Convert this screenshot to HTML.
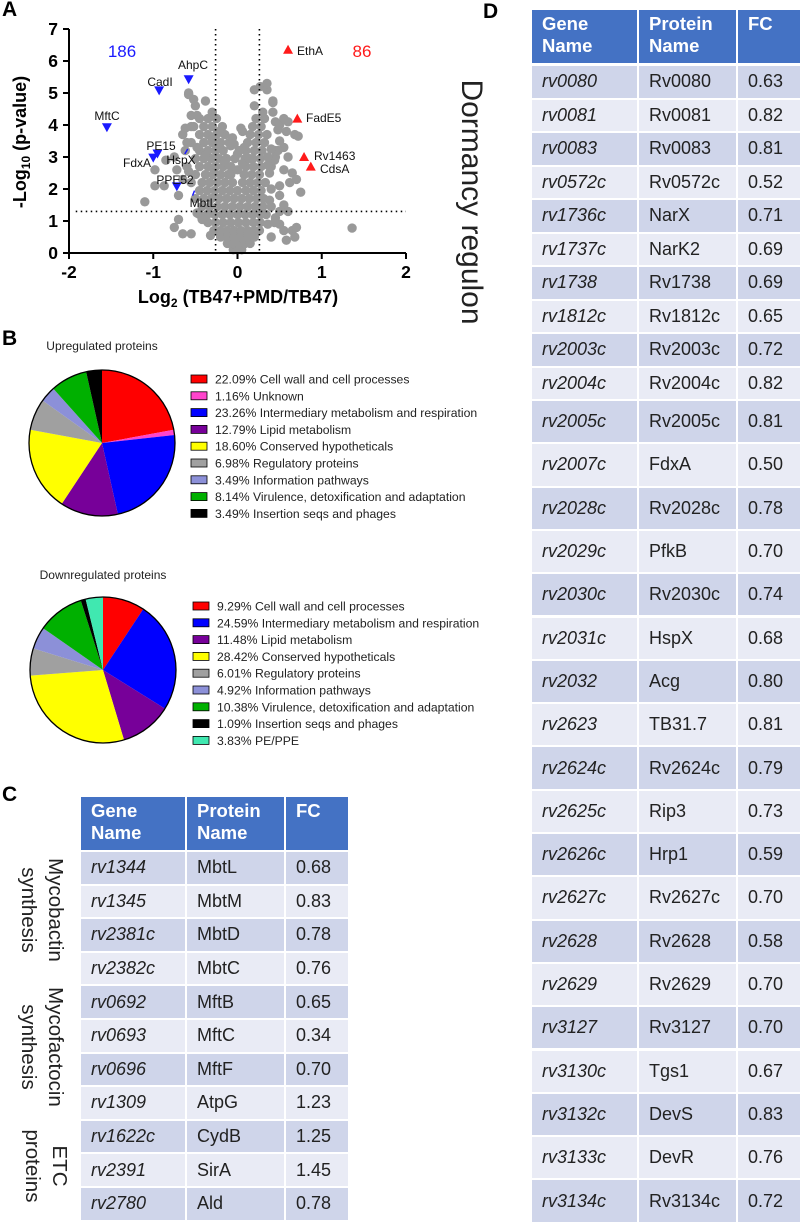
<!DOCTYPE html>
<html><head><meta charset="utf-8">
<style>
body{margin:0;width:800px;height:1228px;background:#fff;position:relative;overflow:hidden;font-family:"Liberation Sans",sans-serif}
.abs{position:absolute}
.cell{position:absolute;box-sizing:border-box;padding-left:10px;font-size:18px;color:#222;display:flex;align-items:center}
.hd{background:#4472c4;color:#fff;font-weight:bold;align-items:flex-start;padding-top:3px;line-height:22px;font-size:18.5px}
.rot{position:absolute;transform:rotate(90deg);transform-origin:center;white-space:nowrap;text-align:center;color:#222}
.plabel{position:absolute;font-weight:bold;font-size:21px;color:#000}
</style></head><body>
<div class="plabel" style="left:2px;top:-2px">A</div>
<div class="plabel" style="left:2px;top:327px">B</div>
<div class="plabel" style="left:2px;top:783px">C</div>
<div class="plabel" style="left:483px;top:0px">D</div>

<svg id="volcano" class="abs" style="left:0;top:0;overflow:visible" width="420" height="310"></svg>
<svg id="pies" class="abs" style="left:0;top:310;overflow:visible" width="525" height="450"></svg>

<div class="rot" style="left:-20px;top:883px;width:124px;font-size:20.5px;line-height:27px">Mycobactin<br>synthesis</div>
<div class="rot" style="left:-24px;top:1020px;width:132px;font-size:20.5px;line-height:27px">Mycofactocin<br>synthesis</div>
<div class="rot" style="left:-4px;top:1139px;width:100px;font-size:20.5px;line-height:27px">ETC<br>proteins</div>
<div class="rot" style="left:340px;top:184px;width:262px;font-size:30px;line-height:36px">Dormancy regulon</div>

<div id="tables"></div>

<script>
// ---------- Volcano data ----------
const grayX=[-0.05,0,0.05,-0.12,-0.05,0.02,0.09,0.15,-0.2,-0.12,-0.04,0.04,0.12,0.2,-0.28,-0.2,-0.12,-0.04,0.04,0.12,0.2,0.26,
-0.35,-0.26,-0.17,-0.08,0.01,0.1,0.19,0.27,-0.45,-0.36,-0.27,-0.18,-0.09,0,0.09,0.18,0.27,0.34,-0.42,-0.33,-0.24,-0.15,-0.06,0.03,0.12,0.21,0.3,
-0.5,-0.4,-0.31,-0.22,-0.13,-0.04,0.05,0.14,0.23,0.31,-0.45,-0.36,-0.27,-0.18,-0.09,0,0.1,0.19,0.28,
-0.55,-0.42,-0.33,-0.24,-0.15,-0.06,0.06,0.15,0.24,0.33,-0.5,-0.38,-0.29,-0.2,-0.11,0.08,0.17,0.26,
-0.6,-0.45,-0.35,-0.26,-0.17,-0.08,0.1,0.19,0.28,0.4,-0.5,-0.4,-0.31,-0.22,-0.13,0.09,0.18,0.27,
-0.62,-0.45,-0.35,-0.26,-0.17,0.1,0.2,0.29,0.45,-0.55,-0.4,-0.3,-0.2,-0.1,0.12,0.22,0.32,
-0.65,-0.45,-0.35,-0.25,-0.15,0.15,0.25,0.35,-0.55,-0.4,-0.3,-0.18,0.18,0.28,-0.45,-0.35,-0.25,0.22,0.32,
-0.3,0.3,0.42,-0.5,0.2,-0.38,0.42,0.2,0.35,0.27,0.35,-0.58,
-1.1,-0.98,-0.87,-0.98,-0.85,-0.75,-0.72,-0.65,-0.7,-0.75,-0.65,-0.7,-0.55,-0.62,-0.55,-0.48,-0.58,-0.52,
0.45,0.5,0.55,0.6,0.58,0.68,0.72,0.5,0.55,0.45,0.6,0.55,0.65,0.62,0.7,0.75,0.5,0.55,0.6,0.45,0.5,0.55,0.58,0.65,0.7,0.68,0.4,1.36,0.4,0.42,0.48,
-0.08,0.0,0.08,-0.15,-0.03,0.06,0.14,-0.22,-0.08,0.0,0.08,-0.3,-0.22,-0.06,0.02,0.06,-0.38,-0.28,-0.04,0.04,-0.42,-0.32,0.36,0.38,-0.48,0.4,0.44,
-0.58,-0.48,-0.52,-0.6,0.36,0.48,0.5,0.38,0.44,0.5,0.36,0.4];
const grayY=[0.1,0.1,0.1,0.3,0.3,0.3,0.3,0.3,0.5,0.5,0.5,0.5,0.5,0.5,0.7,0.7,0.7,0.7,0.7,0.7,0.7,0.7,
0.95,0.95,0.95,0.95,0.95,0.95,0.95,0.95,1.2,1.2,1.2,1.2,1.2,1.2,1.2,1.2,1.2,1.2,1.45,1.45,1.45,1.45,1.45,1.45,1.45,1.45,1.45,
1.7,1.7,1.7,1.7,1.7,1.7,1.7,1.7,1.7,1.7,1.95,1.95,1.95,1.95,1.95,1.95,1.95,1.95,1.95,
2.2,2.2,2.2,2.2,2.2,2.2,2.2,2.2,2.2,2.2,2.45,2.45,2.45,2.45,2.45,2.45,2.45,2.45,
2.7,2.7,2.7,2.7,2.7,2.7,2.7,2.7,2.7,2.7,2.95,2.95,2.95,2.95,2.95,2.95,2.95,2.95,
3.2,3.2,3.2,3.2,3.2,3.2,3.2,3.2,3.2,3.45,3.45,3.45,3.45,3.45,3.45,3.45,3.45,
3.7,3.7,3.7,3.7,3.7,3.7,3.7,3.7,3.95,3.95,3.95,3.95,3.95,3.95,4.2,4.2,4.2,4.2,4.2,
4.4,4.4,4.4,4.6,4.6,4.75,4.75,5.1,5.1,5.2,5.3,4.95,
1.6,2.1,2.1,2.6,2.9,3.0,2.6,2.3,1.8,0.8,0.6,1.05,0.6,3.9,4.3,4.3,5.0,4.8,
4.1,4.0,4.2,4.1,3.8,3.7,3.65,3.5,3.3,3.0,3.0,2.6,2.5,2.2,2.3,1.9,1.8,1.5,1.3,1.1,0.9,0.7,0.4,0.7,0.8,0.5,0.5,0.78,2.0,4.7,3.85,
2.45,2.6,2.45,2.85,2.95,2.8,2.95,3.3,3.35,3.1,3.3,3.55,3.8,3.6,3.2,3.8,3.05,2.5,3.4,3.9,1.05,0.55,0.9,2.5,1.25,1.45,2.9,
2.55,3.3,3.95,3.45,3.0,3.2,2.1,1.65,0.95,1.3,2.75,3.25];
const downNames=["MftC","CadI","AhpC","PE15","FdxA","PPE52"];
const downX=[-1.55,-0.93,-0.58,-0.95,-1.0,-0.72];
const downY=[3.9,5.05,5.4,3.08,2.95,2.05];
const upNames=["EthA","FadE5","Rv1463","CdsA"];
const upX=[0.6,0.71,0.79,0.87];
const upY=[6.35,4.2,3.0,2.7];
const xTicks=[-2,-1,0,1,2];
const yTicks=[0,1,2,3,4,5,6,7];

const NS="http://www.w3.org/2000/svg";
function mk(p,tag,attrs,txt){const e=document.createElementNS(NS,tag);for(const k in attrs)e.setAttribute(k,attrs[k]);if(txt!==undefined)e.textContent=txt;p.appendChild(e);return e;}
const sx=v=>237.5+v*84.25, sy=v=>253-v*32;
const V=document.getElementById('volcano');
grayX.forEach((x,i)=>{const c=mk(V,'circle',{cx:sx(x),cy:sy(grayY[i]),r:4.7,fill:'#999999'});

});
mk(V,'path',{d:`M${sx(-0.59)} ${sy(3.25)} l-3 5`,stroke:'#1a1aff','stroke-width':1.5,fill:'none'});
mk(V,'path',{d:`M${sx(-0.51)} ${sy(1.95)} l-2 5`,stroke:'#1a1aff','stroke-width':1.5,fill:'none'});
[ -0.26,0.26].forEach(v=>{const l=mk(V,'line',{x1:sx(v),x2:sx(v),y1:sy(7),y2:sy(0),stroke:'#000','stroke-width':1.6,'stroke-dasharray':'1.5 3.5'});

});
const hl=mk(V,'line',{x1:sx(-1.92),x2:sx(2),y1:sy(1.3),y2:sy(1.3),stroke:'#000','stroke-width':1.6,'stroke-dasharray':'1.5 3.5'});


downX.forEach((x,i)=>{const X=sx(x),Y=sy(downY[i]);const t=mk(V,'path',{d:`M${X-5} ${Y-5}L${X+5} ${Y-5}L${X} ${Y+4}Z`,fill:'#1a1aff'});

});
upX.forEach((x,i)=>{const X=sx(x),Y=sy(upY[i]);const t=mk(V,'path',{d:`M${X-5} ${Y+4}L${X+5} ${Y+4}L${X} ${Y-5}Z`,fill:'#ff1a1a'});

});
const lab=[["MftC",107,120,'middle'],["CadI",160,86,'middle'],["AhpC",193,69,'middle'],["PE15",161,150,'middle'],["FdxA",151,167,'end'],["HspX",181,164,'middle'],["PPE52",175,184,'middle'],["MbtL",203,207,'middle'],
["EthA",297,55,'start'],["FadE5",306,122,'start'],["Rv1463",314,160,'start'],["CdsA",320,173,'start']];
lab.forEach(l=>{const t=mk(V,'text',{x:l[1],y:l[2],'text-anchor':l[3],'font-size':12,fill:'#111'},l[0]);

});
mk(V,'text',{x:122,y:57,'text-anchor':'middle','font-size':17,fill:'#1a1aff'},'186');
mk(V,'text',{x:362,y:57,'text-anchor':'middle','font-size':17,fill:'#ff1a1a'},'86');
mk(V,'line',{x1:sx(-2),x2:sx(2),y1:253,y2:253,stroke:'#000','stroke-width':2});
mk(V,'line',{x1:69,x2:69,y1:sy(7),y2:253,stroke:'#000','stroke-width':2});
xTicks.forEach(v=>{mk(V,'line',{x1:sx(v),x2:sx(v),y1:253,y2:259,stroke:'#000','stroke-width':2});
const t=mk(V,'text',{x:sx(v),y:278,'text-anchor':'middle','font-size':17.5,'font-weight':'bold'},String(v));

});
yTicks.forEach(v=>{mk(V,'line',{x1:63,x2:69,y1:sy(v),y2:sy(v),stroke:'#000','stroke-width':2});
const t=mk(V,'text',{x:58,y:sy(v)+6,'text-anchor':'end','font-size':17.5,'font-weight':'bold'},String(v));

});
const xt=mk(V,'text',{x:238,y:303,'text-anchor':'middle','font-size':18,'font-weight':'bold'});
xt.innerHTML='Log<tspan font-size="12" dy="4">2</tspan><tspan dy="-4"> (TB47+PMD/TB47)</tspan>';


const yt=mk(V,'text',{x:0,y:0,'text-anchor':'middle','font-size':18,'font-weight':'bold',transform:'translate(26,142) rotate(-90)'});
yt.innerHTML='-Log<tspan font-size="12" dy="4">10</tspan><tspan dy="-4"> (p-value)</tspan>';



// ---------- Pie data ----------
const upLabels=["Cell wall and cell processes","Unknown","Intermediary metabolism and respiration","Lipid metabolism","Conserved hypotheticals","Regulatory proteins","Information pathways","Virulence, detoxification and adaptation","Insertion seqs and phages"];
const upValues=[22.09,1.16,23.26,12.79,18.60,6.98,3.49,8.14,3.49];
const upColors=["#ff0000","#ff44cc","#0000ff","#770099","#ffff00","#a0a0a0","#8c90d8","#00b000","#000000"];
const downLabels=["Cell wall and cell processes","Intermediary metabolism and respiration","Lipid metabolism","Conserved hypotheticals","Regulatory proteins","Information pathways","Virulence, detoxification and adaptation","Insertion seqs and phages","PE/PPE"];
const downValues=[9.29,24.59,11.48,28.42,6.01,4.92,10.38,1.09,3.83];
const downColors=["#ff0000","#0000ff","#770099","#ffff00","#a0a0a0","#8c90d8","#00b000","#000000","#40e8b0"];
const P=document.getElementById('pies');
function pie(cx,cy,r,vals,cols,labels,title,ty,lx,ly,name){
  mk(P,'text',{x:cx,y:ty,'text-anchor':'middle','font-size':12,fill:'#222'},title);
  const tot=vals.reduce((a,b)=>a+b,0);let a0=-Math.PI/2;
  vals.forEach((v,i)=>{const a1=a0+v/tot*2*Math.PI;const lg=(a1-a0)>Math.PI?1:0;
    const p=mk(P,'path',{d:`M${cx} ${cy}L${cx+r*Math.cos(a0)} ${cy+r*Math.sin(a0)}A${r} ${r} 0 ${lg} 1 ${cx+r*Math.cos(a1)} ${cy+r*Math.sin(a1)}Z`,fill:cols[i]});
    
    
    a0=a1;
    mk(P,'rect',{x:lx,y:ly+i*16.8-4,width:16,height:8,fill:cols[i],stroke:'#000','stroke-width':0.8});
    const t=mk(P,'text',{x:lx+24,y:ly+i*16.8+4.5,'font-size':12.2,fill:'#222','xml:space':'preserve'},v.toFixed(2)+'%  '+labels[i]);
    
    
  });
  mk(P,'circle',{cx:cx,cy:cy,r:r,fill:'none',stroke:'#000','stroke-width':1.3});
}
pie(102,133,73,upValues,upColors,upLabels,'Upregulated proteins',40,191,69,'up-pie');
pie(103,360,73,downValues,downColors,downLabels,'Downregulated proteins',269,193,296,'down-pie');

// ---------- Tables ----------
const cGenes=["rv1344","rv1345","rv2381c","rv2382c","rv0692","rv0693","rv0696","rv1309","rv1622c","rv2391","rv2780"];
const cProts=["MbtL","MbtM","MbtD","MbtC","MftB","MftC","MftF","AtpG","CydB","SirA","Ald"];
const cFC=["0.68","0.83","0.78","0.76","0.65","0.34","0.70","1.23","1.25","1.45","0.78"];
const dGenes=["rv0080","rv0081","rv0083","rv0572c","rv1736c","rv1737c","rv1738","rv1812c","rv2003c","rv2004c","rv2005c","rv2007c","rv2028c","rv2029c","rv2030c","rv2031c","rv2032","rv2623","rv2624c","rv2625c","rv2626c","rv2627c","rv2628","rv2629","rv3127","rv3130c","rv3132c","rv3133c","rv3134c"];
const dProts=["Rv0080","Rv0081","Rv0083","Rv0572c","NarX","NarK2","Rv1738","Rv1812c","Rv2003c","Rv2004c","Rv2005c","FdxA","Rv2028c","PfkB","Rv2030c","HspX","Acg","TB31.7","Rv2624c","Rip3","Hrp1","Rv2627c","Rv2628","Rv2629","Rv3127","Tgs1","DevS","DevR","Rv3134c"];
const dFC=["0.63","0.82","0.81","0.52","0.71","0.69","0.69","0.65","0.72","0.82","0.81","0.50","0.78","0.70","0.74","0.68","0.80","0.81","0.79","0.73","0.59","0.70","0.58","0.70","0.70","0.67","0.83","0.76","0.72"];
const T=document.getElementById('tables');
function cell(x,y,w,h,html,cls,bg,italic,name){const d=document.createElement('div');d.className='cell '+cls;
 d.style.cssText=`left:${x}px;top:${y}px;width:${w}px;height:${h}px;background:${bg};${italic?'font-style:italic;':''}`;
 d.innerHTML=html;
 T.appendChild(d);}
function table(cols,hy,hh,rows,genes,prots,fcs,name){
  const heads=['Gene<br>Name','Protein<br>Name','FC'];
  for(let c=0;c<3;c++)cell(cols[c],hy,cols[c+1]-cols[c]-2,hh,heads[c],'hd','#4472c4',false,name+'-header');
  genes.forEach((g,i)=>{const bg=i%2?'#e9ebf5':'#cfd5ea';const r=rows[i];
    cell(cols[0],r[0],cols[1]-cols[0]-2,r[1]-2,g,'',bg,true,name+'-gene-cell');
    cell(cols[1],r[0],cols[2]-cols[1]-2,r[1]-2,prots[i],'',bg,false,name+'-protein-cell');
    cell(cols[2],r[0],cols[3]-cols[2]-2,r[1]-2,fcs[i],'',bg,false,name+'-fc-cell');});
}
const cRows=cGenes.map((g,i)=>[852+i*33.6,33.6]);
table([81,187,286,350],797,53,cRows,cGenes,cProts,cFC,'table-c');
const dRows=dGenes.map((g,i)=>i<10?[66+i*33.5,33.5]:[401+(i-10)*43.3,43.3]);
table([532,639,738,802],10,53,dRows,dGenes,dProts,dFC,'table-d');
</script>
</body></html>
